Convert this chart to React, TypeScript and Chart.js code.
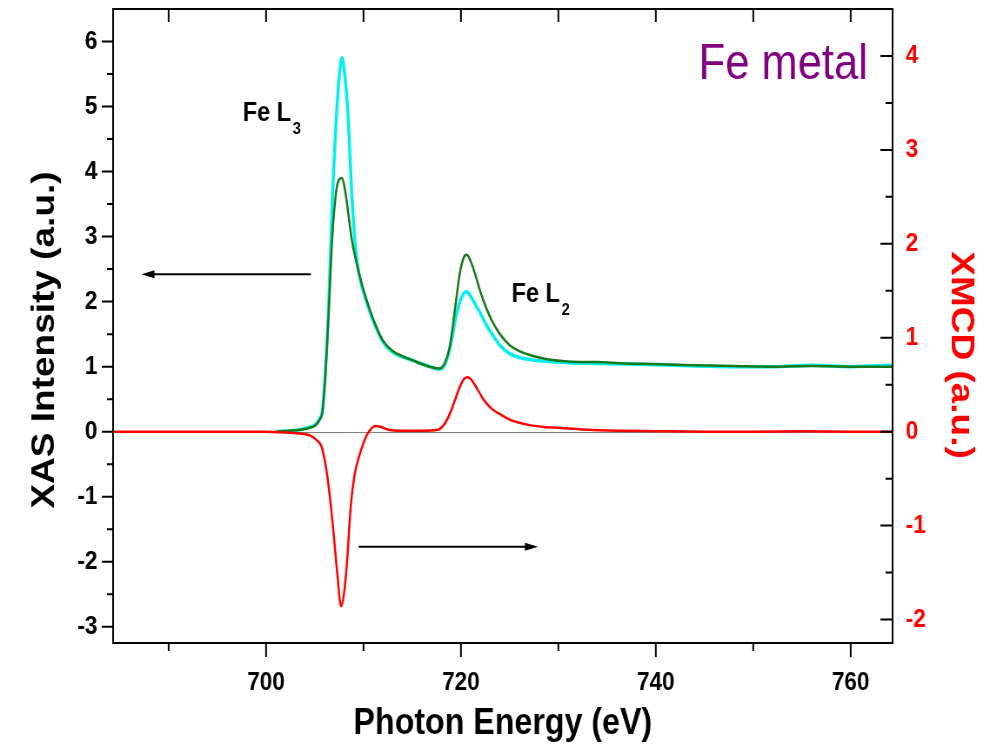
import React, { useEffect, useRef } from 'react';
import { Chart, registerables } from 'chart.js';
Chart.register(...registerables);

// XAS spectra (left axis)
const XAS_ENERGY = [701, 702, 703, 704, 704.5, 705, 705.5, 705.8, 706.1, 706.4, 706.8, 707.2, 707.5, 707.8, 708.1, 708.4, 708.8, 709.2, 709.6, 710.2, 711, 712, 713, 714, 715, 716, 717, 717.8, 718.4, 718.9, 719.4, 719.9, 720.3, 720.6, 721, 721.5, 722, 722.6, 723.2, 724, 725, 726, 727.5, 729, 731, 734, 737, 740, 744, 748, 752, 756, 760, 764.3];
const XAS_CYAN = [0.0, 0.01, 0.02, 0.05, 0.07, 0.1, 0.2, 0.35, 0.95, 1.85, 3.55, 4.8, 5.45, 5.75, 5.45, 4.9, 3.65, 2.8, 2.38, 2.05, 1.7, 1.38, 1.22, 1.15, 1.1, 1.04, 0.99, 0.96, 1.05, 1.3, 1.7, 2.0, 2.13, 2.15, 2.08, 1.95, 1.82, 1.64, 1.5, 1.33, 1.2, 1.14, 1.1, 1.08, 1.06, 1.05, 1.04, 1.03, 1.01, 1.0, 1.0, 1.02, 1.0, 1.02];
const XAS_GREEN = [0.0, 0.01, 0.02, 0.04, 0.06, 0.09, 0.18, 0.32, 0.9, 1.75, 3.0, 3.7, 3.88, 3.9, 3.72, 3.4, 2.95, 2.65, 2.4, 2.08, 1.73, 1.4, 1.24, 1.16, 1.1, 1.04, 0.99, 0.97, 1.08, 1.35, 1.9, 2.45, 2.68, 2.72, 2.62, 2.4, 2.15, 1.9, 1.7, 1.5, 1.33, 1.24, 1.16, 1.11, 1.08, 1.07, 1.05, 1.04, 1.02, 1.01, 1.0, 1.01, 1.0, 1.0];

// XMCD (right axis)
const XMCD_ENERGY = [684.3, 690, 695, 700, 702, 703.5, 704.5, 705.2, 705.7, 706.1, 706.5, 706.9, 707.3, 707.7, 708.0, 708.3, 708.7, 709.1, 709.5, 710, 710.5, 711.2, 711.8, 712.6, 714, 716, 717.6, 718.3, 718.9, 719.4, 719.9, 720.3, 720.7, 721.1, 721.7, 722.4, 723.2, 724.1, 725.2, 726.8, 728.5, 730.3, 733, 736, 740, 745, 750, 755, 760, 764.3];
const XMCD_VALUES = [0, 0, 0, 0, -0.01, -0.02, -0.04, -0.09, -0.16, -0.35, -0.65, -1.05, -1.5, -1.86, -1.72, -1.4, -0.78, -0.45, -0.28, -0.12, -0.01, 0.06, 0.05, 0.02, 0.01, 0.01, 0.02, 0.08, 0.2, 0.34, 0.48, 0.56, 0.58, 0.55, 0.45, 0.33, 0.24, 0.18, 0.12, 0.075, 0.05, 0.04, 0.02, 0.01, 0.005, 0, 0, 0.005, 0, 0];

// ticks
const X_TICKS = [700, 720, 740, 760];
const X_MINOR = [690, 710, 730, 750];
const YL_TICKS = [-3, -2, -1, 0, 1, 2, 3, 4, 5, 6];
const YL_MINOR = [-2.5, -1.5, -0.5, 0.5, 1.5, 2.5, 3.5, 4.5, 5.5];
const YR_TICKS = [-2, -1, 0, 1, 2, 3, 4];
const YR_MINOR = [-1.5, -0.5, 0.5, 1.5, 2.5, 3.5];

const FONT = '"Liberation Sans", Arial, sans-serif';
// the reference is rendered horizontally condensed; draw wide and squeeze
const SQ = 0.87;
const W = Math.round(990 / SQ);
const H = 753;

function text(ctx: CanvasRenderingContext2D, s: string, x: number, y: number, font: string, color: string, align: CanvasTextAlign, rot = 0) {
  ctx.save();
  ctx.translate(x, y);
  if (rot) ctx.rotate(rot);
  ctx.font = font;
  ctx.fillStyle = color;
  ctx.textAlign = align;
  ctx.textBaseline = 'alphabetic';
  ctx.fillText(s, 0, 0);
  ctx.restore();
}

function arrow(ctx: CanvasRenderingContext2D, x1: number, y: number, x2: number) {
  const dir = Math.sign(x2 - x1);
  ctx.save();
  ctx.strokeStyle = '#000';
  ctx.fillStyle = '#000';
  ctx.lineWidth = 2;
  ctx.beginPath();
  ctx.moveTo(x1, y);
  ctx.lineTo(x2 - dir * 8, y);
  ctx.stroke();
  ctx.beginPath();
  ctx.moveTo(x2, y);
  ctx.lineTo(x2 - dir * 15, y - 4);
  ctx.lineTo(x2 - dir * 15, y + 4);
  ctx.closePath();
  ctx.fill();
  ctx.restore();
}

export default function App() {
  const ref = useRef<HTMLCanvasElement>(null);
  useEffect(() => {
    const canvas = ref.current!;
    const pts = (xs: number[], ys: number[]) => xs.map((x, i) => ({ x, y: ys[i] }));

    const decor = {
      id: 'decor',
      beforeDatasetsDraw(chart: any) {
        const { ctx, chartArea: a, scales } = chart;
        const y0 = Math.round(scales.yL.getPixelForValue(0)) + 0.5;
        ctx.save();
        ctx.strokeStyle = '#808080';
        ctx.lineWidth = 1;
        ctx.beginPath();
        ctx.moveTo(a.left, y0);
        ctx.lineTo(a.right, y0);
        ctx.stroke();
        ctx.restore();
      },
      afterDatasetsDraw(chart: any) {
        const { ctx, chartArea: a, scales } = chart;
        const xs = scales.x, yl = scales.yL, yr = scales.yR;
        ctx.save();
        ctx.strokeStyle = '#000';
        ctx.lineWidth = 2;
        ctx.strokeRect(a.left, a.top, a.right - a.left, a.bottom - a.top);
        ctx.beginPath();
        const seg = (x1: number, y1: number, x2: number, y2: number) => { ctx.moveTo(x1, y1); ctx.lineTo(x2, y2); };
        X_TICKS.forEach((v) => { const p = xs.getPixelForValue(v); seg(p, a.bottom, p, a.bottom + 14); seg(p, a.top, p, a.top + 13); });
        X_MINOR.forEach((v) => { const p = xs.getPixelForValue(v); seg(p, a.bottom, p, a.bottom + 8); seg(p, a.top, p, a.top + 13); });
        YL_TICKS.forEach((v) => { const p = yl.getPixelForValue(v); seg(a.left - 13, p, a.left, p); });
        YL_MINOR.forEach((v) => { const p = yl.getPixelForValue(v); seg(a.left - 7, p, a.left, p); });
        YR_TICKS.forEach((v) => { const p = yr.getPixelForValue(v); seg(a.right - 14, p, a.right, p); });
        YR_MINOR.forEach((v) => { const p = yr.getPixelForValue(v); seg(a.right - 8, p, a.right, p); });
        ctx.stroke();
        ctx.restore();

        // arrows
        arrow(ctx, xs.getPixelForValue(704.6), yl.getPixelForValue(2.42), xs.getPixelForValue(687.2));
        arrow(ctx, xs.getPixelForValue(709.5), yr.getPixelForValue(-1.226), xs.getPixelForValue(727.9));

        // annotations
        text(ctx, 'Fe metal', xs.getPixelForValue(744.4), yl.getPixelForValue(5.42), `50px ${FONT}`, '#800080', 'left');
        const l3x = xs.getPixelForValue(697.6), l3y = yl.getPixelForValue(4.77);
        ctx.save(); ctx.font = `bold 27px ${FONT}`; const wl = ctx.measureText('Fe L').width; ctx.restore();
        text(ctx, 'Fe L', l3x, l3y, `bold 27px ${FONT}`, '#000', 'left');
        text(ctx, '3', l3x + wl + 2, l3y + 13, `bold 17px ${FONT}`, '#000', 'left');
        const l2x = xs.getPixelForValue(725.2), l2y = yl.getPixelForValue(2.0);
        text(ctx, 'Fe L', l2x, l2y, `bold 27px ${FONT}`, '#000', 'left');
        text(ctx, '2', l2x + wl + 2, l2y + 13, `bold 17px ${FONT}`, '#000', 'left');

        // axis titles
        text(ctx, 'XAS Intensity (a.u.)', 62, 340, `bold 37px ${FONT}`, '#000', 'center', -Math.PI / 2);
        text(ctx, 'Photon Energy (eV)', 578, 734, `bold 37px ${FONT}`, '#000', 'center');
        text(ctx, 'XMCD (a.u.)', 1094, 355, `bold 37px ${FONT}`, '#ff0000', 'center', Math.PI / 2);
      },
    };

    const tickFont = { family: FONT, size: 26, weight: 'bold' };
    const chart = new Chart(canvas, {
      type: 'line',
      data: {
        datasets: [
          { label: 'XMCD', data: pts(XMCD_ENERGY, XMCD_VALUES), yAxisID: 'yR', borderColor: '#ff0000', borderWidth: 2.5, pointRadius: 0, cubicInterpolationMode: 'monotone' },
          { label: 'XAS green', data: pts(XAS_ENERGY, XAS_GREEN), yAxisID: 'yL', borderColor: '#187a18', borderWidth: 2.5, pointRadius: 0, cubicInterpolationMode: 'monotone' },
          { label: 'XAS cyan', data: pts(XAS_ENERGY, XAS_CYAN), yAxisID: 'yL', borderColor: '#00f0f0', borderWidth: 3.5, pointRadius: 0, cubicInterpolationMode: 'monotone' },
        ],
      },
      options: {
        animation: false,
        responsive: false,
        devicePixelRatio: 1,
        layout: { padding: { top: 9, left: 0, right: 0, bottom: 0 } },
        plugins: { legend: { display: false }, tooltip: { enabled: false } },
        scales: {
          x: {
            type: 'linear', position: 'bottom', min: 684.3, max: 764.3,
            afterFit: (s: any) => { s.height = H - 643; s.paddingLeft = 0; s.paddingRight = 0; },
            afterBuildTicks: (s: any) => { s.ticks = X_TICKS.map((v) => ({ value: v })); },
            grid: { display: false, drawTicks: false }, border: { display: false },
            ticks: { font: tickFont, color: '#000', padding: 24, maxRotation: 0, autoSkip: false },
          },
          yL: {
            type: 'linear', position: 'left', min: -3.25, max: 6.5,
            afterFit: (s: any) => { s.width = 130; s.paddingTop = 0; s.paddingBottom = 0; },
            afterBuildTicks: (s: any) => { s.ticks = YL_TICKS.map((v) => ({ value: v })); },
            grid: { display: false, drawTicks: false }, border: { display: false },
            ticks: { font: tickFont, color: '#000', padding: 18, autoSkip: false },
          },
          yR: {
            type: 'linear', position: 'right', min: -2.25, max: 4.5,
            afterFit: (s: any) => { s.width = W - 1026; s.paddingTop = 0; s.paddingBottom = 0; },
            afterBuildTicks: (s: any) => { s.ticks = YR_TICKS.map((v) => ({ value: v })); },
            grid: { display: false, drawTicks: false }, border: { display: false },
            ticks: { font: tickFont, color: '#ff0000', padding: 15, autoSkip: false },
          },
        },
      },
      plugins: [decor],
    } as any);
    return () => chart.destroy();
  }, []);
  return (
    <div style={{ position: 'fixed', left: 0, top: 0, width: 990, height: H, overflow: 'hidden', background: '#fff' }}>
      <div style={{ width: W, height: H, transform: `scaleX(${990 / W})`, transformOrigin: '0 0' }}>
        <canvas ref={ref} width={W} height={H} style={{ display: 'block', width: W, height: H }} />
      </div>
    </div>
  );
}
